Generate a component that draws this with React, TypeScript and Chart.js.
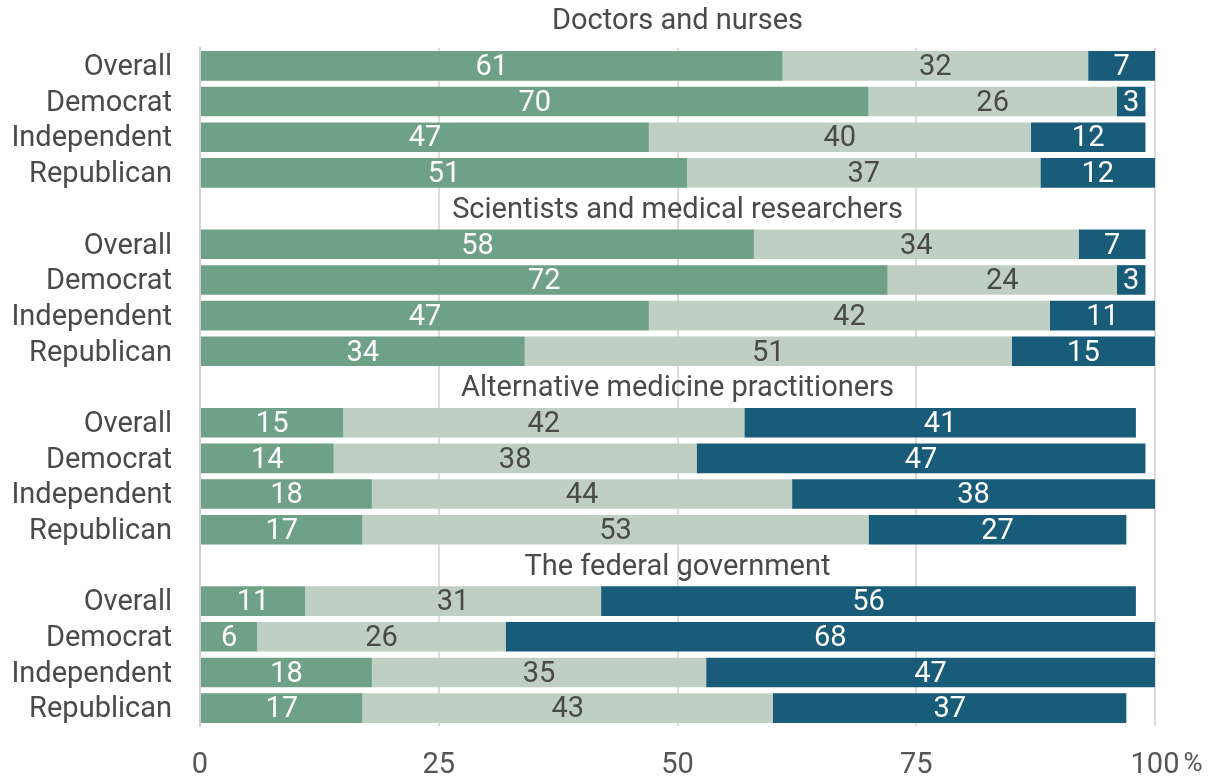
import React, { useEffect, useRef } from "react";
import { Chart, registerables } from "chart.js";

Chart.register(...registerables);

const groupTitles = [
  "Doctors and nurses",
  "Scientists and medical researchers",
  "Alternative medicine practitioners",
  "The federal government",
];
const rowNames = ["Overall", "Democrat", "Independent", "Republican"];

// per group, per row: [a great deal, a fair amount, not much]
const greatDeal = [
  [61, 70, 47, 51],
  [58, 72, 47, 34],
  [15, 14, 18, 17],
  [11, 6, 18, 17],
];
const fairAmount = [
  [32, 26, 40, 37],
  [34, 24, 42, 51],
  [42, 38, 44, 53],
  [31, 26, 35, 43],
];
const notMuch = [
  [7, 3, 12, 12],
  [7, 3, 11, 15],
  [41, 47, 38, 27],
  [56, 68, 47, 37],
];
const xTicks = [0, 25, 50, 75, 100];

const colors = ["#6fa187", "#bfcfc4", "#185c7a"];
const textColors = ["#ffffff", "#4a4a4a", "#ffffff"];
const FONT = "Roboto";
const FS = 29;

function build() {
  const labels: string[] = [];
  const titleAt: { [k: number]: string } = {};
  const d: (number | null)[][] = [[], [], []];
  groupTitles.forEach((t, g) => {
    if (g > 0) {
      titleAt[labels.length] = t;
      labels.push("");
      d[0].push(null);
      d[1].push(null);
      d[2].push(null);
    }
    rowNames.forEach((r, i) => {
      labels.push(r);
      d[0].push(greatDeal[g][i]);
      d[1].push(fairAmount[g][i]);
      d[2].push(notMuch[g][i]);
    });
  });
  return { labels, titleAt, d };
}

export default function App() {
  const ref = useRef<HTMLCanvasElement>(null);
  useEffect(() => {
    document.body.style.margin = "0";
    const { labels, titleAt, d } = build();
    const overlay = {
      id: "overlay",
      afterDatasetsDraw(chart: any) {
        const ctx = chart.ctx;
        ctx.save();
        ctx.textAlign = "center";
        ctx.textBaseline = "middle";
        ctx.font = `${FS}px ${FONT}`;
        chart.data.datasets.forEach((ds: any, di: number) => {
          const meta = chart.getDatasetMeta(di);
          meta.data.forEach((bar: any, i: number) => {
            const v = ds.data[i];
            if (v == null) return;
            const { x, base, y } = bar.getProps(["x", "base", "y"], true);
            ctx.fillStyle = textColors[di];
            ctx.fillText(String(v), (x + base) / 2, y + 2);
          });
        });
        const ys = chart.scales.y;
        // category labels
        ctx.textAlign = "right";
        ctx.fillStyle = "#4a4a4a";
        chart.data.labels.forEach((lab: string, i: number) => {
          if (!lab) return;
          ctx.fillText(lab, chart.chartArea.left - 28, ys.getPixelForValue(i) + 2);
        });
        // group titles
        ctx.textAlign = "center";
        const cx = (chart.chartArea.left + chart.chartArea.right) / 2;
        ctx.fillText(groupTitles[0], cx, 22);
        Object.keys(titleAt).forEach((k) => {
          const y = ys.getPixelForValue(Number(k));
          ctx.fillText(titleAt[Number(k)], cx, y + 2);
        });
        // percent sign after 100
        const xs = chart.scales.x;
        const px = xs.getPixelForValue(100);
        const w = ctx.measureText("100").width;
        ctx.textAlign = "left";
        ctx.fillStyle = "#555555";
        ctx.font = `26px ${FONT}`;
        ctx.fillText("%", px + w / 2 + 4, 764);
        ctx.restore();
      },
    };
    const chart = new Chart(ref.current!, {
      type: "bar",
      data: {
        labels,
        datasets: [0, 1, 2].map((k) => ({
          data: d[k],
          backgroundColor: colors[k],
          borderWidth: 0,
          barPercentage: 0.83,
          categoryPercentage: 1,
        })),
      },
      options: {
        indexAxis: "y",
        animation: false,
        responsive: false,
        maintainAspectRatio: false,
        layout: { padding: { top: 48, right: 57, left: 0, bottom: 0 } },
        plugins: {
          legend: { display: false },
          tooltip: { enabled: false },
          title: { display: false },
        },
        scales: {
          x: {
            stacked: true,
            min: 0,
            max: 100,
            afterBuildTicks: (s: any) => {
              s.ticks = xTicks.map((v) => ({ value: v }));
            },
            afterFit: (s: any) => {
              s.height = 51;
            },
            grid: { color: "#dcdcdc", lineWidth: 2, drawTicks: false },
            border: { display: false },
            ticks: {
              color: "#555555",
              font: { family: FONT, size: FS },
              padding: 22,
              maxRotation: 0,
              callback: (v: any) => String(v),
            },
          },
          y: {
            stacked: true,
            afterFit: (s: any) => {
              s.width = 200;
            },
            grid: { display: false },
            border: { display: true, color: "#d0d0d0", width: 2 },
            ticks: {
              color: "rgba(0,0,0,0)",
              font: { family: FONT, size: FS },
              padding: 19,
              autoSkip: false,
            },
          },
        },
      },
      plugins: [overlay],
    } as any);
    return () => chart.destroy();
  }, []);
  return (
    <div style={{ width: 1212, height: 777 }}>
      <canvas ref={ref} width={1212} height={777} style={{ display: "block" }} />
    </div>
  );
}
